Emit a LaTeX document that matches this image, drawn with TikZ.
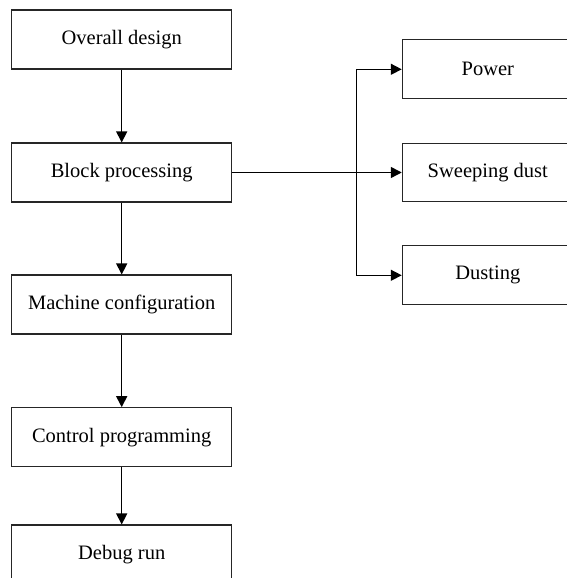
\documentclass[tikz,border=0pt]{standalone}
\usepackage{fontspec}
\setmainfont{Liberation Serif}
\usetikzlibrary{arrows.meta}

\begin{document}
\begin{tikzpicture}[x=1pt, y=1pt]
            \tikzstyle{stage} = [draw=black!85, line width=1.1pt, minimum width=219.7pt, minimum height=59pt, inner sep=0pt, font=\fontsize{20.5}{24}\selectfont]
            \tikzstyle{part} = [stage, minimum width=171pt, minimum height=58.7pt]
            \tikzstyle{flow} = [line width=1.5pt, -{Triangle[length=11pt, width=11pt]}]
            \useasboundingbox (0, 0) rectangle (567, 578);
            \clip (0, 0) rectangle (567, 578);
            % main sequence
            \node[stage] (design) at (121.7, 538.5) {Overall design};
            \node[stage] (block) at (121.7, 405.5) {Block processing};
            \node[stage] (machine) at (121.7, 273.5) {Machine configuration};
            \node[stage] (control) at (121.7, 140.8) {Control programming};
            \node[stage] (debug) at (121.7, 23.5) {Debug run};
            % block parts
            \node[part] (power) at (487.8, 508.7) {Power};
            \node[part] (sweep) at (487.8, 405.5) {Sweeping dust};
            \node[part] (dusting) at (487.8, 302.7) {Dusting};
            \coordinate (fork) at (356.7, 405.5);
            \draw[flow] (design) -- (block);
            \draw[flow] (block) -- (machine);
            \draw[flow] (machine) -- (control);
            \draw[flow] (control) -- (debug);
            \draw[flow] (block) -- (sweep);
            \draw[flow] (fork) |- (power.west);
            \draw[flow] (fork) |- (dusting.west);
        \end{tikzpicture}
\end{document}
